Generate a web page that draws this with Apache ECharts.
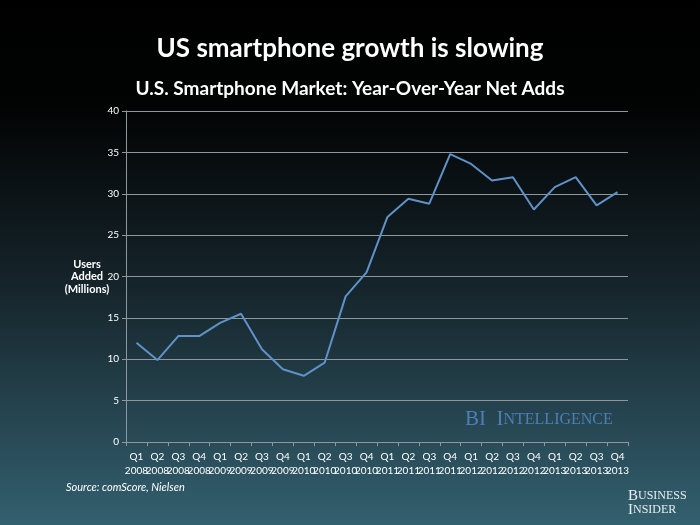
<!DOCTYPE html>
<html><head><meta charset="utf-8">
<script src="https://cdn.jsdelivr.net/npm/echarts@6/dist/echarts.min.js"></script>
<style>html,body{margin:0;padding:0;background:#000;}#c{width:700px;height:525px;}</style>
</head><body><div id="c"></div>
<script>
const quarters = ['Q1','Q2','Q3','Q4','Q1','Q2','Q3','Q4','Q1','Q2','Q3','Q4','Q1','Q2','Q3','Q4','Q1','Q2','Q3','Q4','Q1','Q2','Q3','Q4'];
const years = ['2008','2008','2008','2008','2009','2009','2009','2009','2010','2010','2010','2010','2011','2011','2011','2011','2012','2012','2012','2012','2013','2013','2013','2013'];
const netAdds = [12.0,9.9,12.8,12.8,14.4,15.5,11.2,8.8,8.0,9.6,17.6,20.5,27.2,29.4,28.8,34.8,33.6,31.6,32.0,28.1,30.8,32.0,28.6,30.2];
const yTicks = [0,5,10,15,20,25,30,35,40];

const categories = quarters.map((q,i)=>q+'\n'+years[i]);
const chart = echarts.init(document.getElementById('c'), null, {renderer:'canvas'});
const font = 'Lato, "Open Sans", sans-serif';
chart.setOption({
  backgroundColor: {type:'linear', x:0, y:0, x2:0, y2:1, colorStops:[
    {offset:0, color:'#000000'},{offset:0.2, color:'#020303'},{offset:0.55, color:'#16252c'},{offset:1, color:'#33606f'}]},
  title: [
    {text:'US smartphone growth is slowing', left:'center', top:31, textStyle:{color:'#fff', fontSize:26, fontWeight:'bold', fontFamily:font}},
    {text:'U.S. Smartphone Market: Year-Over-Year Net Adds', left:'center', top:74, textStyle:{color:'#fff', fontSize:19, fontWeight:'bold', fontFamily:font}}
  ],
  grid:{left:126, right:72, top:111, bottom:83},
  xAxis:{type:'category', data:categories, boundaryGap:true,
    axisLine:{lineStyle:{color:'#8f979d', width:1}},
    axisTick:{show:true, length:4, lineStyle:{color:'#8f979d'}},
    axisLabel:{color:'#fff', fontSize:10, fontFamily:font, interval:0, margin:8, lineHeight:14}},
  yAxis:{type:'value', min:0, max:40, interval:5,
    axisLine:{show:true, lineStyle:{color:'#8f979d'}},
    axisTick:{show:true, length:4, lineStyle:{color:'#8f979d'}},
    splitLine:{lineStyle:{color:'#8f979d', width:1}},
    axisLabel:{color:'#fff', fontSize:10, fontFamily:font, margin:7,
      formatter:(v)=> yTicks.includes(v) ? String(v) : ''}},
  series:[{type:'line', data:netAdds, symbol:'none', smooth:false,
    lineStyle:{color:'#5f92c8', width:2}}],
  graphic:[
    {type:'text', x:87, y:258, style:{text:'Users\nAdded\n(Millions)', fill:'#fff', font:'bold 11px '+font, textAlign:'center', align:'center', lineHeight:12.5}},
    {type:'text', x:66, y:482, style:{text:'Source: comScore, Nielsen', fill:'#fff', font:'italic 11px '+font}},
    {type:'text', x:465, y:409, style:{
      rich:{a:{fontSize:21, fontFamily:'"Liberation Serif", serif', fill:'#4d7fb6'}, b:{fontSize:16, fontFamily:'"Liberation Serif", serif', fill:'#4d7fb6'}},
      text:'{a|BI  I}{b|NTELLIGENCE}'}},
    {type:'text', x:628, y:489, style:{
      rich:{a:{fontSize:15, fontFamily:'"Liberation Serif", serif', fill:'#e8eef2', lineHeight:14}, b:{fontSize:12, fontFamily:'"Liberation Serif", serif', fill:'#e8eef2', lineHeight:14}},
      text:'{a|B}{b|USINESS}\n{a|I}{b|NSIDER}'}}
  ]
});
</script></body></html>
